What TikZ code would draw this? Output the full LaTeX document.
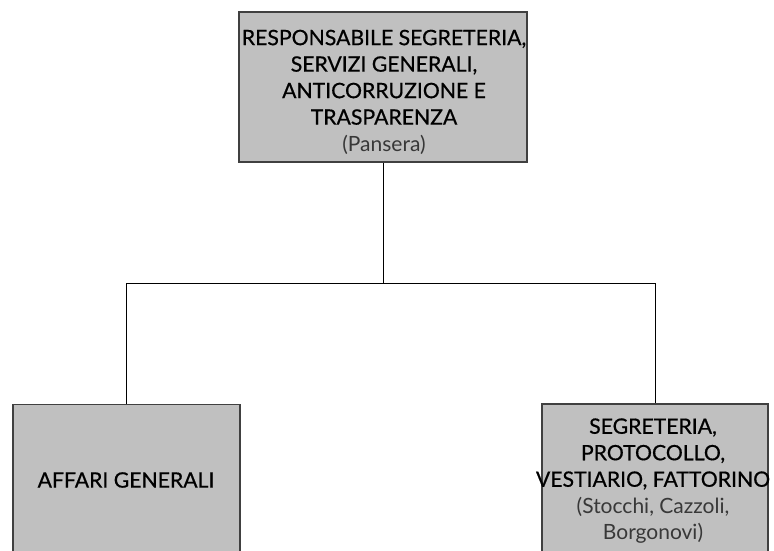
\documentclass[tikz,border=0pt]{standalone}
\usepackage{fontspec}
\setmainfont{Lato}
\newfontfamily\medfont[FakeBold=0.6]{Lato}
\definecolor{boxfill}{HTML}{C0C0C0}
\definecolor{boxline}{HTML}{404040}
\definecolor{subtext}{HTML}{383838}
\tikzset{
  orgbox/.style={draw=boxline, line width=1.5pt, fill=boxfill, rectangle, inner sep=0pt},
  orgtext/.style={align=center, text=black, inner sep=0pt, font=\medfont\fontsize{21.2}{26.5}\selectfont},
  link/.style={draw=black, line width=1pt},
}
\newcommand{\subname}[1]{{\color{subtext}\normalfont\fontsize{21}{26.5}\selectfont #1}}
\begin{document}
\begin{tikzpicture}[x=1pt,y=-1pt]
\useasboundingbox (0,0) rectangle (774,550);
\clip (0,0) rectangle (774,550);
\node[orgbox, minimum width=288pt, minimum height=150pt] (top) at (383,87) {};
\node[orgbox, minimum width=227pt, minimum height=160pt] (left) at (126.3,484.5) {};
\node[orgbox, minimum width=226pt, minimum height=160pt] (right) at (655,484) {};
\node[orgtext] (toptext) at (384,92) {RESPONSABILE SEGRETERIA,\\SERVIZI GENERALI,\\ANTICORRUZIONE E\\TRASPARENZA\\\subname{(Pansera)}};
\node[orgtext] (lefttext) at (126,480) {AFFARI GENERALI};
\node[orgtext] (righttext) at (653,481) {SEGRETERIA,\\PROTOCOLLO,\\VESTIARIO, FATTORINO\\\subname{(Stocchi, Cazzoli,}\\\subname{Borgonovi)}};
\coordinate (mid) at (383.3,283.3);
\draw[link] (top.south -| mid) -- (mid);
\draw[link] (mid) -- (mid -| left.north) -- (left.north);
\draw[link] (mid) -- (mid -| right.north) -- (right.north);
\end{tikzpicture}
\end{document}
